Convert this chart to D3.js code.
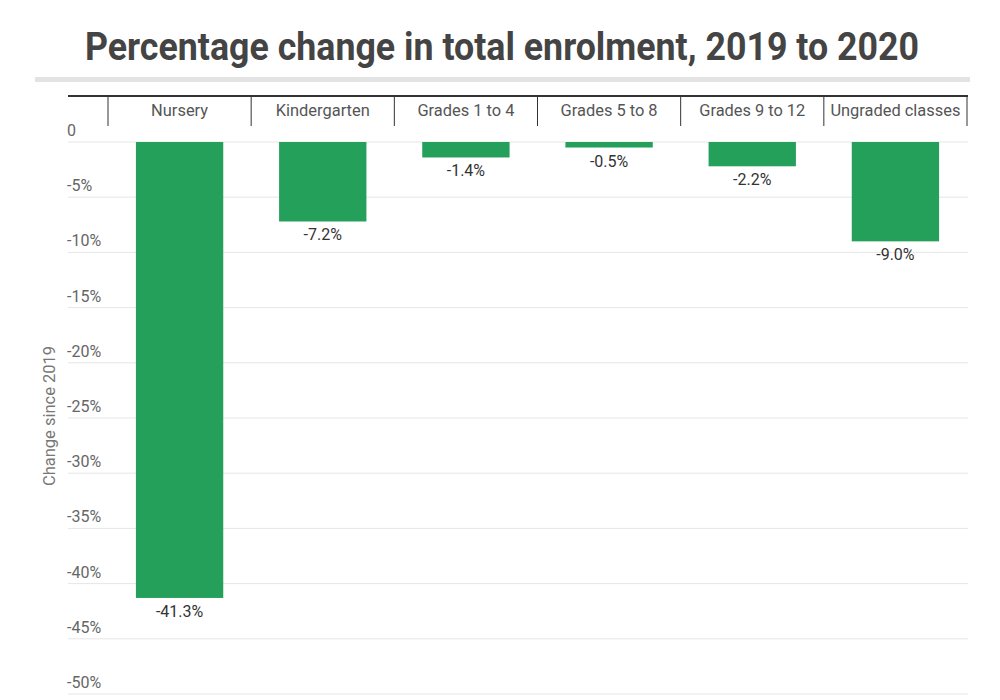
<!DOCTYPE html>
<html>
<head>
<meta charset="utf-8">
<script src="https://cdn.jsdelivr.net/npm/d3@7"></script>
<style>
  body { margin: 0; background: #fff; }
  svg { display: block; font-family: Roboto, "Noto Sans", sans-serif; }
</style>
</head>
<body>
<div id="chart"></div>
<script>
// Plot constants
const WIDTH = 1000;
const HEIGHT = 700;

// Data
const categories = ["Nursery", "Kindergarten", "Grades 1 to 4", "Grades 5 to 8", "Grades 9 to 12", "Ungraded classes"];
const changes = [-41.3, -7.2, -1.4, -0.5, -2.2, -9.0];
const yTicks = [0, -5, -10, -15, -20, -25, -30, -35, -40, -45, -50];

// condensed look for the header labels (rendered widths, px)
const headerWidth = {
  "Nursery": 57, "Kindergarten": 94, "Grades 1 to 4": 97,
  "Grades 5 to 8": 97, "Grades 9 to 12": 106, "Ungraded classes": 130
};

const svg = d3.select("#chart").append("svg")
  .attr("width", WIDTH)
  .attr("height", HEIGHT);

// Title
svg.append("text")
  .attr("x", 502)
  .attr("y", 60)
  .attr("text-anchor", "middle")
  .attr("font-size", "38px")
  .attr("font-weight", "bold")
  .attr("fill", "#444")
  .attr("textLength", 834)
  .attr("lengthAdjust", "spacingAndGlyphs")
  .text("Percentage change in total enrolment, 2019 to 2020");

// grey rule under title
svg.append("rect")
  .attr("x", 35).attr("y", 77)
  .attr("width", 935).attr("height", 5)
  .attr("fill", "#e3e3e3");

// Scales
const x = d3.scaleBand()
  .domain(categories)
  .range([108, 967])
  .paddingInner(0.39)
  .paddingOuter(0.195);

const y = d3.scaleLinear()
  .domain([0, -50])
  .range([142, 694]);

// Grid lines + y labels
const grid = svg.append("g");
grid.selectAll("line")
  .data(yTicks)
  .enter().append("line")
  .attr("x1", 68).attr("x2", 968)
  .attr("y1", d => y(d)).attr("y2", d => y(d))
  .attr("stroke", "#e6e6e6")
  .attr("stroke-width", 1);

grid.selectAll("text")
  .data(yTicks)
  .enter().append("text")
  .attr("x", 67)
  .attr("y", d => y(d) - 6)
  .attr("font-size", "16px")
  .attr("fill", "#666")
  .text(d => d === 0 ? "0" : d + "%");

// Y axis title
svg.append("text")
  .attr("transform", "translate(55,416) rotate(-90)")
  .attr("text-anchor", "middle")
  .attr("font-size", "16.5px")
  .attr("fill", "#777")
  .text("Change since 2019");

// Top category axis
const ax = svg.append("g").attr("transform", "translate(0,96)");
ax.append("line")
  .attr("x1", 68).attr("x2", 968)
  .attr("y1", 0).attr("y2", 0)
  .attr("stroke", "#333").attr("stroke-width", 2);

const bounds = categories.map(c => x(c) - x.step() * x.paddingInner() / 2)
  .concat([x(categories[categories.length - 1]) + x.bandwidth() + x.step() * x.paddingInner() / 2]);
ax.selectAll(".sep")
  .data(bounds)
  .enter().append("line")
  .attr("class", "sep")
  .attr("x1", d => d).attr("x2", d => d)
  .attr("y1", 0).attr("y2", 30)
  .attr("stroke", "#333").attr("stroke-width", 1);

ax.selectAll(".cat")
  .data(categories)
  .enter().append("text")
  .attr("class", "cat")
  .attr("x", d => x(d) + x.bandwidth() / 2)
  .attr("y", 20)
  .attr("text-anchor", "middle")
  .attr("font-size", "16px")
  .attr("fill", "#555")
  .attr("textLength", d => headerWidth[d])
  .attr("lengthAdjust", "spacingAndGlyphs")
  .text(d => d);

// Bars
const data = categories.map((c, i) => ({cat: c, value: changes[i]}));
svg.append("g").selectAll("rect")
  .data(data)
  .enter().append("rect")
  .attr("x", d => x(d.cat))
  .attr("y", y(0))
  .attr("width", x.bandwidth())
  .attr("height", d => y(d.value) - y(0))
  .attr("fill", "#24a05a");

// Value labels
svg.append("g").selectAll("text")
  .data(data)
  .enter().append("text")
  .attr("x", d => x(d.cat) + x.bandwidth() / 2)
  .attr("y", d => y(d.value) + 19)
  .attr("text-anchor", "middle")
  .attr("font-size", "16px")
  .attr("fill", "#333")
  .text(d => d.value.toFixed(1) + "%");
</script>
</body>
</html>
